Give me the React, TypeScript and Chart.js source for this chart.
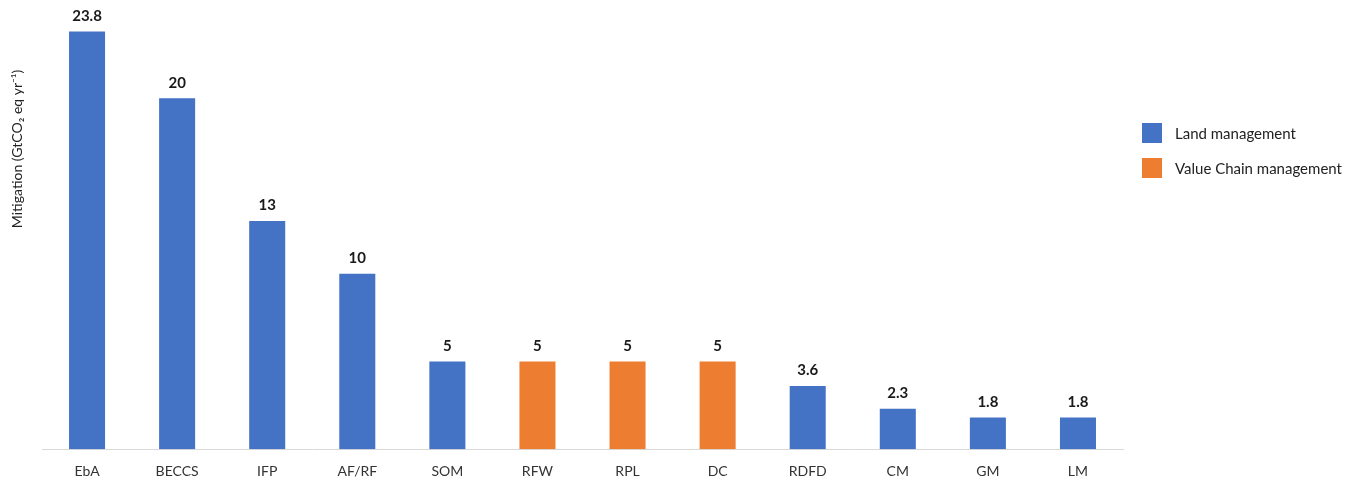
import React, { useEffect, useRef } from "react";
import { Chart, registerables } from "chart.js";

Chart.register(...registerables);

const categories = ["EbA", "BECCS", "IFP", "AF/RF", "SOM", "RFW", "RPL", "DC", "RDFD", "CM", "GM", "LM"];
const landValues: (number | null)[] = [23.8, 20, 13, 10, 5, null, null, null, 3.6, 2.3, 1.8, 1.8];
const valueChainValues: (number | null)[] = [null, null, null, null, null, 5, 5, 5, null, null, null, null];
const seriesNames = ["Land management", "Value Chain management"];
const seriesColors = ["#4472C4", "#ED7D31"];
const yTitle = "Mitigation (GtCO\u2082 eq yr\u207B\u00B9)";

const FONT = "Lato, 'Open Sans', sans-serif";

const overlay = {
  id: "overlay",
  afterDatasetsDraw(chart: any) {
    const ctx = chart.ctx;
    ctx.save();
    // value labels
    ctx.font = `bold 15px ${FONT}`;
    ctx.fillStyle = "#1a1a1a";
    ctx.textAlign = "center";
    ctx.textBaseline = "bottom";
    chart.data.datasets.forEach((ds: any, di: number) => {
      const meta = chart.getDatasetMeta(di);
      meta.data.forEach((el: any, i: number) => {
        const v = ds.data[i];
        if (v === null || v === undefined) return;
        ctx.fillText(String(v), el.x, el.y - 8);
      });
    });
    // y title
    ctx.save();
    ctx.translate(17, 149);
    ctx.rotate(-Math.PI / 2);
    ctx.font = `14px ${FONT}`;
    ctx.fillStyle = "#222";
    ctx.textAlign = "center";
    ctx.textBaseline = "middle";
    ctx.fillText(yTitle, 0, 0);
    ctx.restore();
    // legend
    chart.data.datasets.forEach((ds: any, di: number) => {
      const y = 123 + di * 35;
      ctx.fillStyle = ds.backgroundColor;
      ctx.fillRect(1142, y, 20, 20);
      ctx.font = `15px ${FONT}`;
      ctx.fillStyle = "#222";
      ctx.textAlign = "left";
      ctx.textBaseline = "middle";
      ctx.fillText(ds.label, 1175, y + 11);
    });
    ctx.restore();
  },
};

export default function App() {
  const ref = useRef<HTMLCanvasElement>(null);
  useEffect(() => {
    if (!ref.current) return;
    const chart = new Chart(ref.current, {
      type: "bar",
      data: {
        labels: categories,
        datasets: [
          {
            label: seriesNames[0],
            data: landValues,
            backgroundColor: seriesColors[0],
            grouped: false,
            barPercentage: 0.4,
            categoryPercentage: 1,
          } as any,
          {
            label: seriesNames[1],
            data: valueChainValues,
            backgroundColor: seriesColors[1],
            grouped: false,
            barPercentage: 0.4,
            categoryPercentage: 1,
          } as any,
        ],
      },
      options: {
        animation: false,
        responsive: false,
        maintainAspectRatio: false,
        layout: { padding: { left: 42, right: 242, top: 28, bottom: -8 } },
        plugins: { legend: { display: false }, tooltip: { enabled: false } },
        scales: {
          x: {
            grid: { display: false, drawTicks: false, tickLength: 0 },
            border: { display: true, color: "#d9d9d9", width: 1 },
            ticks: { font: { family: FONT, size: 14 }, color: "#333", padding: 14, maxRotation: 0 },
          },
          y: {
            display: false,
            min: 0,
            max: 24,
          },
        },
      },
      plugins: [overlay],
    });
    return () => chart.destroy();
  }, []);
  return (
    <div style={{ position: "fixed", left: 0, top: 0, width: 1365, height: 486, background: "#fff" }}>
      <canvas ref={ref} width={1365} height={486} style={{ display: "block" }} />
    </div>
  );
}
